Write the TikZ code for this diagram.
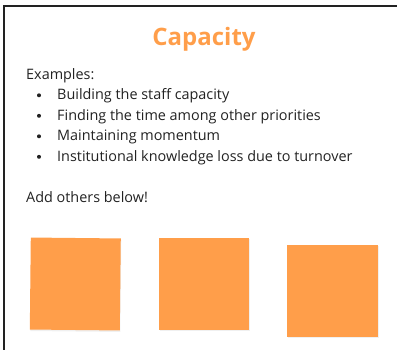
\documentclass[tikz,border=0pt]{standalone}
\usepackage{fontspec}
\setmainfont{Open Sans}
\usetikzlibrary{positioning,shadows}
\definecolor{capOrange}{HTML}{FF9E4A}
\definecolor{inkGray}{HTML}{222222}

\begin{document}
\begin{tikzpicture}[x=1pt, y=-1pt,
  body/.style={anchor=base west, inner sep=0, text=inkGray, font=\fontsize{14.4}{18}\selectfont},
  sticky/.style={fill=capOrange, minimum width=90, minimum height=92, inner sep=0,
    drop shadow={opacity=0.12, shadow xshift=0.5pt, shadow yshift=-1.5pt}}]
\useasboundingbox (0,0) rectangle (397,350);
% frame
\draw[inkGray, line width=2pt] (3.5,350) -- (3.5,5.8) -- (397,5.8);
% title
\node[anchor=base, inner sep=0, text=capOrange, font=\fontsize{24}{28}\bfseries\selectfont] (title) at (204,46) {Capacity};
\node[body] (examples) at (26,79.5) {Examples:};
\foreach \txt [count=\i] in {Building the staff capacity, Finding the time among other priorities,
  Maintaining momentum, Institutional knowledge loss due to turnover} {
 \node[body] (item\i) at (57,79.5+20.5*\i) {\txt};
 \fill[inkGray] (39,74.8+20.5*\i) circle (2);
}
\node[body] (others) at (26,203) {Add others below!};
% sticky notes
\node[sticky, rotate=-0.6] (note1) at (75.3,284) {};
\node[sticky] (note2) at (204,284) {};
\node[sticky, minimum width=91] (note3) at (332.5,291) {};
\end{tikzpicture}
\end{document}
